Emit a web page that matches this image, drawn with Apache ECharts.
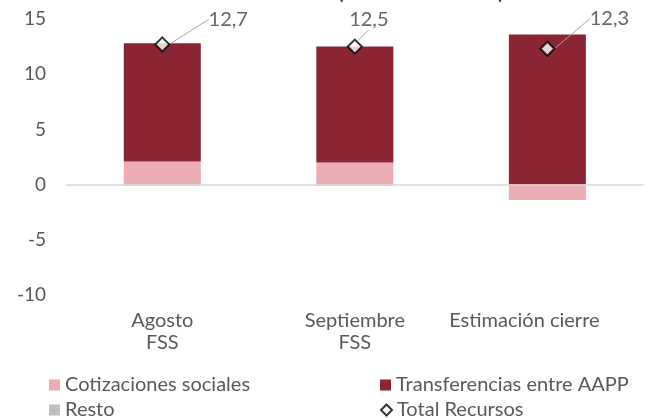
<!DOCTYPE html>
<html>
<head>
<meta charset="utf-8">
<script src="https://cdn.jsdelivr.net/npm/echarts@6/dist/echarts.min.js"></script>
<style>
html,body{margin:0;padding:0;background:#fff;}
#c{width:648px;height:418px;}
</style>
</head>
<body>
<div id="c"></div>
<script>
var categories = ['Agosto\nFSS', 'Septiembre\nFSS', 'Estimación cierre'];
var cotizaciones = [2.1, 2.0, -1.4];
var transferencias = [10.7, 10.5, 13.6];
var resto = [-0.1, -0.1, 0];
var totalRecursos = [12.7, 12.5, 12.3];
var yTicks = [-10, -5, 0, 5, 10, 15];

var labelOffsets = [[66, -25], [14, -27], [62, -30]];
var FONT = 'Lato, "Open Sans", sans-serif';
var GREY = '#595959';

function oneLegend(name, left, top, icon) {
  return {
    left: left, top: top, orient: 'vertical',
    itemWidth: 11, itemHeight: 11, itemGap: 0,
    data: [{name: name, icon: icon}],
    textStyle: {fontSize: 20, color: GREY, fontFamily: FONT}
  };
}

var chart = echarts.init(document.getElementById('c'), null, {renderer: 'canvas'});
chart.setOption({
  animation: false,
  backgroundColor: '#fff',
  textStyle: {fontFamily: FONT},
  title: {
    text: '(millones de euros)',
    left: 333,
    top: -22,
    textStyle: {fontFamily: FONT, fontSize: 20, fontWeight: 'bold', color: '#404040'}
  },
  grid: {left: 66, right: 1, top: 19, bottom: 123, containLabel: false},
  xAxis: {
    type: 'category',
    data: categories,
    axisLine: {show: false},
    axisTick: {show: false},
    axisLabel: {
      margin: 15,
      fontSize: 20,
      lineHeight: 22,
      color: GREY,
      fontFamily: FONT,
      interval: 0,
      formatter: function (v, i) {
        return i === 2 ? '{s|' + v + '}' : v;
      },
      rich: {s: {padding: [0, 46, 0, 0], fontSize: 20, lineHeight: 22, color: GREY, fontFamily: FONT}}
    }
  },
  yAxis: {
    type: 'value',
    min: yTicks[0],
    max: yTicks[yTicks.length - 1],
    interval: 5,
    axisLine: {show: false},
    axisTick: {show: false},
    splitLine: {show: false},
    axisLabel: {margin: 20, fontSize: 19, color: GREY, fontFamily: FONT}
  },
  legend: [
    oneLegend('Cotizaciones sociales', 44, 370, 'rect'),
    oneLegend('Resto', 44, 395, 'rect'),
    oneLegend('Transferencias entre AAPP', 375, 370, 'rect'),
    oneLegend('Total Recursos', 375, 395, 'diamond')
  ],
  series: [
    {
      name: 'Cotizaciones sociales', type: 'bar', stack: 'a', barWidth: '40%',
      data: cotizaciones,
      itemStyle: {color: '#EBADB3'}
    },
    {
      name: 'Transferencias entre AAPP', type: 'bar', stack: 'a', barWidth: '40%',
      data: transferencias,
      itemStyle: {color: '#8B2533'},
      markLine: {
        silent: true,
        symbol: 'none',
        label: {show: false},
        lineStyle: {color: '#D9D9D9', type: 'solid', width: 1.5},
        data: [{yAxis: 0}]
      }
    },
    {
      name: 'Resto', type: 'bar', stack: 'a', barWidth: '40%',
      data: resto,
      itemStyle: {color: '#BFBFBF'}
    },
    {
      name: 'Total Recursos', type: 'scatter',
      data: totalRecursos,
      symbol: 'diamond',
      symbolSize: 14,
      z: 10,
      itemStyle: {color: '#FFFFFF', borderColor: '#000000', borderWidth: 2},
      label: {
        show: true,
        position: 'inside',
        fontSize: 20,
        color: '#404040',
        fontFamily: FONT,
        formatter: function (p) { return String(p.value).replace('.', ','); }
      },
      labelLine: {show: true, lineStyle: {color: '#A6A6A6', width: 1}},
      labelLayout: function (p) {
        var o = labelOffsets[p.dataIndex];
        return {dx: o[0], dy: o[1]};
      }
    }
  ]
});
</script>
</body>
</html>
